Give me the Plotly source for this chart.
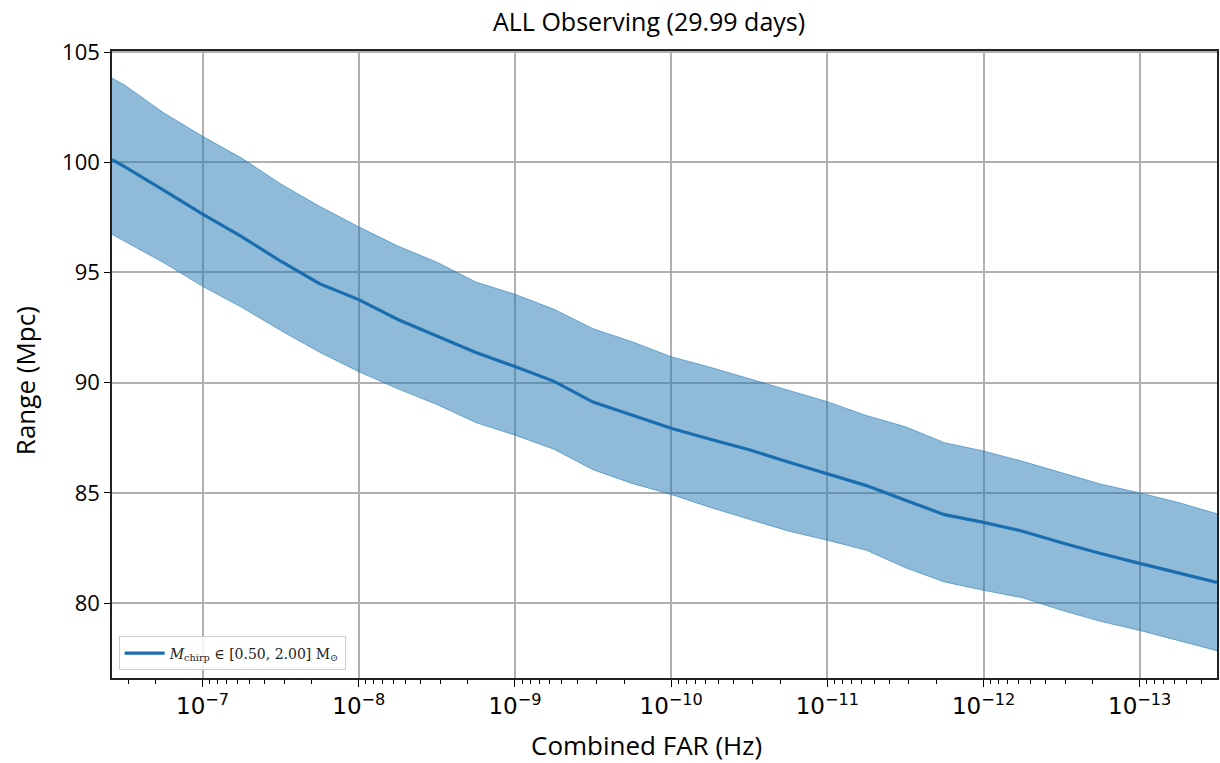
import plotly.graph_objects as go

# Combined FAR (Hz)
far = [3.8e-07, 3.16e-07, 1.78e-07, 1.0e-07, 5.62e-08, 3.16e-08, 1.78e-08, 1.0e-08,
       5.62e-09, 3.16e-09, 1.78e-09, 1.0e-09, 5.62e-10, 3.16e-10, 1.78e-10, 1.0e-10,
       5.62e-11, 3.16e-11, 1.78e-11, 1.0e-11, 5.62e-12, 3.16e-12, 1.78e-12, 1.0e-12,
       5.62e-13, 3.16e-13, 1.78e-13, 1.0e-13, 5.62e-14, 3.2e-14]

range_median = [100.12, 99.80, 98.74, 97.65, 96.63, 95.51, 94.49, 93.77, 92.87, 92.12,
                91.37, 90.73, 90.06, 89.12, 88.53, 87.93, 87.43, 86.96, 86.40, 85.88,
                85.33, 84.67, 84.01, 83.66, 83.26, 82.74, 82.25, 81.80, 81.38, 80.94]

range_upper = [103.82, 103.51, 102.25, 101.18, 100.19, 99.02, 98.00, 97.07, 96.20, 95.47,
               94.57, 94.01, 93.33, 92.45, 91.86, 91.18, 90.70, 90.18, 89.64, 89.14,
               88.51, 88.00, 87.28, 86.90, 86.43, 85.91, 85.40, 85.00, 84.56, 84.05]

range_lower = [96.73, 96.42, 95.45, 94.37, 93.42, 92.37, 91.38, 90.50, 89.72, 89.01,
               88.19, 87.62, 86.98, 86.05, 85.43, 84.93, 84.34, 83.80, 83.27, 82.85,
               82.40, 81.60, 80.96, 80.58, 80.24, 79.67, 79.17, 78.76, 78.29, 77.84]

x_ticks = [1e-7, 1e-8, 1e-9, 1e-10, 1e-11, 1e-12, 1e-13]
x_ticktext = ["10<sup>−7</sup>", "10<sup>−8</sup>", "10<sup>−9</sup>", "10<sup>−10</sup>",
              "10<sup>−11</sup>", "10<sup>−12</sup>", "10<sup>−13</sup>"]
y_ticks = [80, 85, 90, 95, 100, 105]

title_text = "ALL Observing (29.99 days)"
x_title = "Combined FAR (Hz)"
y_title = "Range (Mpc)"
legend_label = "<i>M</i><sub>chirp</sub> ∈ [0.50, 2.00] M<sub>⊙</sub>"

fig = go.Figure()
fig.add_trace(go.Scatter(x=far, y=range_upper, mode="lines",
                         line=dict(color="rgba(31,119,180,0.55)", width=1),
                         showlegend=False, hoverinfo="skip"))
fig.add_trace(go.Scatter(x=far, y=range_lower, mode="lines", fill="tonexty",
                         fillcolor="rgba(31,119,180,0.5)",
                         line=dict(color="rgba(31,119,180,0.55)", width=1),
                         showlegend=False, hoverinfo="skip"))
fig.add_trace(go.Scatter(x=far, y=range_median, mode="lines",
                         line=dict(color="#1a6eb0", width=3.2),
                         name=legend_label))

pl, pr, pt, pb = 112, 1219, 51, 678


def ann(text, px, py, size, angle=0):
    return dict(text=text, x=(px - pl) / (pr - pl), y=(pb - py) / (pb - pt),
                xref="paper", yref="paper", xanchor="center", yanchor="middle",
                showarrow=False, textangle=angle,
                font=dict(family="Open Sans", size=size, color="black"))


fig.update_layout(
    width=1220, height=763,
    margin=dict(l=pl, r=1220 - pr, t=pt, b=763 - pb),
    paper_bgcolor="white", plot_bgcolor="white",
    showlegend=True,
    legend=dict(x=0.006, y=0.012, xanchor="left", yanchor="bottom",
                bgcolor="rgba(255,255,255,0.85)", bordercolor="#cccccc", borderwidth=1,
                font=dict(family="DejaVu Serif", size=14, color="#222"),
                itemwidth=40, tracegroupgap=0),
    annotations=[
        ann(title_text, 650, 21, 25),
        ann(x_title, 647, 745, 26),
        ann(y_title, 25, 381, 26, -90),
    ],
)

fig.update_xaxes(
    type="log", range=[-6.42, -13.495],
    tickvals=x_ticks, ticktext=x_ticktext,
    tickfont=dict(family="DejaVu Sans", size=23, color="black"),
    ticks="outside", ticklen=7, tickcolor="black", tickwidth=1.2,
    showgrid=True, gridcolor="#b0b0b0", gridwidth=1.5,
    showline=True, linecolor="#222", linewidth=1.6, mirror=True,
    minor=dict(ticks="outside", ticklen=4, tickcolor="black", tickwidth=1, showgrid=False,
               dtick="D1"),
    zeroline=False,
)
fig.update_yaxes(
    range=[76.6, 105.05], tickvals=y_ticks,
    tickfont=dict(family="Open Sans", size=22, color="black"),
    ticks="outside", ticklen=6, tickcolor="black", tickwidth=1.2,
    showgrid=True, gridcolor="#b0b0b0", gridwidth=1.5,
    showline=True, linecolor="#222", linewidth=1.6, mirror=True,
    zeroline=False,
)

fig.write_html("out.html")
